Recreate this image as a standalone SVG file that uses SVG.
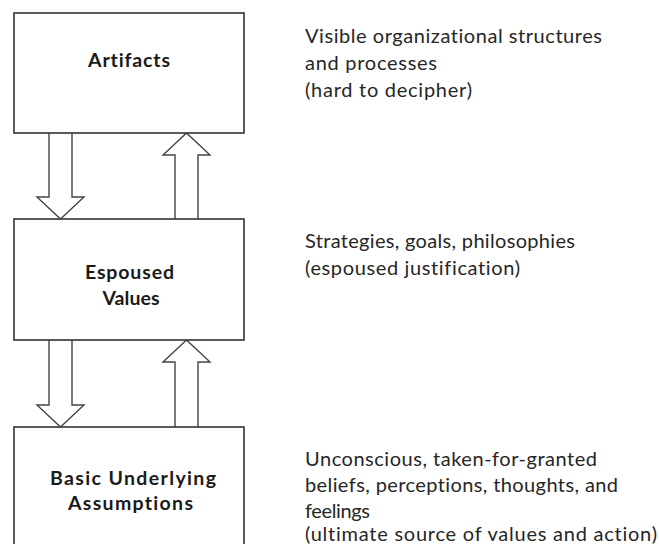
<svg xmlns="http://www.w3.org/2000/svg" width="659" height="544" viewBox="0 0 659 544">
<style>
.box{fill:#fff;stroke:#333;stroke-width:1.6}
.arr{fill:#fff;stroke:#444;stroke-width:1.4;stroke-linejoin:miter}
text{font-variant-ligatures:none}
.lbl{font-family:Lato,"Open Sans",sans-serif;font-weight:bold;font-size:19.5px;fill:#1a1a1a;text-anchor:middle}
.desc{font-family:Lato,"Open Sans",sans-serif;font-size:20px;fill:#262626}
</style>
<rect width="659" height="544" fill="#fff"/>
<g id="connectors">
<path class="arr" d="M49,133 V197 H37 L60.5,219 L84,197 H72 V133"/>
<path class="arr" d="M175,219 V155 H163 L186.5,133 L210,155 H198 V219"/>
<path class="arr" d="M49,340 V405 H37 L60.5,427 L84,405 H72 V340"/>
<path class="arr" d="M175,427 V362 H163 L186.5,340 L210,362 H198 V427"/>
</g>
<g id="artifacts">
<rect class="box" x="14" y="13" width="230" height="120"/>
<text class="lbl" x="129" y="67" textLength="82" lengthAdjust="spacing">Artifacts</text>
</g>
<g id="espoused">
<rect class="box" x="14" y="219" width="230" height="121"/>
<text class="lbl" x="129.5" y="279" textLength="89" lengthAdjust="spacing">Espoused</text>
<text class="lbl" x="131" y="305" textLength="57" lengthAdjust="spacing">Values</text>
</g>
<g id="assumptions">
<rect class="box" x="14" y="427" width="230" height="140"/>
<text class="lbl" x="133" y="485" textLength="166" lengthAdjust="spacing">Basic Underlying</text>
<text class="lbl" x="130.5" y="510" textLength="125" lengthAdjust="spacing">Assumptions</text>
</g>
<g id="desc-artifacts">
<text class="desc" x="305" y="42.5" textLength="297" lengthAdjust="spacing">Visible organizational structures</text>
<text class="desc" x="305" y="70" textLength="132" lengthAdjust="spacing">and processes</text>
<text class="desc" x="305" y="97" textLength="167" lengthAdjust="spacing">(hard to decipher)</text>
</g>
<g id="desc-espoused">
<text class="desc" x="305" y="248" textLength="270" lengthAdjust="spacing">Strategies, goals, philosophies</text>
<text class="desc" x="305" y="275" textLength="215" lengthAdjust="spacing">(espoused justification)</text>
</g>
<g id="desc-assumptions">
<text class="desc" x="305" y="466" textLength="292" lengthAdjust="spacing">Unconscious, taken-for-granted</text>
<text class="desc" x="305" y="492" textLength="313" lengthAdjust="spacing">beliefs, perceptions, thoughts, and</text>
<text class="desc" x="305" y="518" textLength="65" lengthAdjust="spacing">feelings</text>
<text class="desc" x="305" y="541" textLength="352" lengthAdjust="spacing">(ultimate source of values and action)</text>
</g>
</svg>
